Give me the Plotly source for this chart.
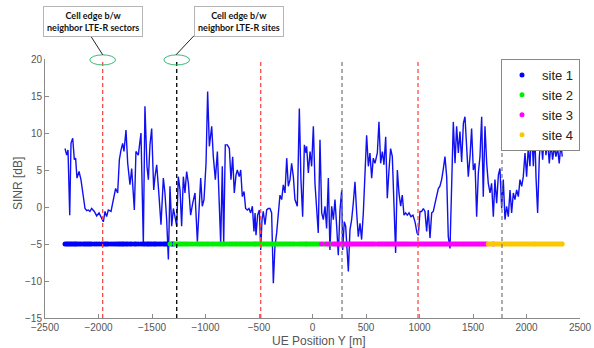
import plotly.graph_objects as go

# ---------------- data ----------------
pos = [-2313, -2297, -2285, -2269, -2257, -2241, -2226, -2214, -2201, -2182, -2164, -2142, -2126,
       -2110, -2095, -2080, -2064, -2039, -2017, -1995, -1970, -1955, -1939, -1924, -1908, -1883,
       -1861, -1840, -1821, -1805, -1790, -1774, -1762, -1743, -1727, -1706, -1690, -1665, -1650,
       -1628, -1603, -1581, -1566, -1547, -1534, -1519, -1503, -1484, -1472, -1456, -1435, -1416,
       -1394, -1379, -1363, -1347, -1332, -1316, -1300, -1285, -1269, -1254, -1238, -1223, -1207,
       -1192, -1176, -1160, -1139, -1120, -1098, -1076, -1061, -1045, -1030, -1014, -995, -980,
       -964, -942, -927, -908, -889, -871, -858, -843, -830, -815, -796, -777, -762, -746, -731,
       -715, -703, -684, -671, -656, -640, -625, -609, -594, -578, -562, -547, -537, -528, -513,
       -497, -484, -472, -460, -444, -428, -413, -397, -382, -366, -351, -335, -319, -304, -288,
       -273, -257, -241, -226, -210, -195, -179, -164, -142, -123, -108, -92, -76, -61, -55, -39,
       -23, -8, 8, 23, 39, 54, 70, 86, 101, 117, 132, 148, 163, 179, 195, 210, 226, 241, 257,
       273, 282, 297, 310, 322, 335, 350, 366, 381, 397, 413, 428, 444, 459, 475, 491, 506, 522,
       537, 553, 568, 584, 606, 621, 637, 653, 668, 684, 699, 715, 730, 746, 761, 777, 793, 808,
       824, 839, 855, 870, 886, 902, 920, 939, 958, 977, 989, 1005, 1020, 1036, 1051, 1067, 1082,
       1098, 1114, 1129, 1145, 1160, 1176, 1191, 1207, 1223, 1238, 1254, 1269, 1285, 1300, 1316,
       1332, 1347, 1363, 1378, 1394, 1410, 1425, 1441, 1456, 1472, 1487, 1503, 1519, 1534, 1550,
       1565, 1581, 1596, 1612, 1628, 1643, 1659, 1674, 1690, 1705, 1721, 1737, 1752, 1768, 1783,
       1799, 1814, 1830, 1846, 1861, 1877, 1892, 1908, 1924, 1939, 1955, 1970, 1986, 2001, 2017,
       2032, 2048, 2064, 2077, 2089, 2104, 2120, 2135, 2151, 2166, 2182, 2197, 2213, 2229, 2244,
       2260, 2275, 2291, 2306, 2322, 2334]

sinr = [7.9, 7.0, 7.7, -1.1, 8.6, 9.3, 6.4, 6.6, 3.9, 4.8, 3.7, 1.4, -0.2,
        -0.5, -0.4, -0.6, -0.2, -0.6, -1.2, -0.8, -1.5, -2.0, -0.6, -1.3, -0.4, -0.6,
        1.0, 2.5, 1.9, 6.4, 7.7, 8.6, 7.5, 10.4, 5.9, 3.0, 5.2, -0.4, 7.5,
        7.0, 10.0, -4.9, 13.6, 5.5, 3.7, 8.4, 10.6, 2.3, 4.1, 5.7, 1.6, -2.4,
        3.9, 1.9, -1.7, -7.1, 2.8, -2.6, -0.2, -1.3, -2.6, 4.1, 2.3, -2.6, 4.1,
        1.9, 4.8, 3.2, -1.1, 0.5, 1.9, -4.7, 0.1, 3.9, 0.1, 1.0, 5.9, 15.6,
        8.2, 10.9, 6.8, 3.7, 7.5, -1.7, -4.9, 5.5, -4.9, 8.4, 8.4, 7.9, 3.7, 6.8, 1.9,
        4.3, 5.0, 4.1, 5.0, 1.4, 2.1, -0.2, -0.4, -0.2, -0.8, 0.1, -3.3, -0.8, -3.8, -1.1,
        -0.4, -5.8, -1.7, -0.6, -2.4, -0.4, -0.2, -0.2, -0.8, -10.3, -5.3, -3.5, -0.8, 1.6, 1.0,
        3.0, 1.9, 6.6, 2.8, 3.7, 5.9, 4.1, 1.0, 0.1, 13.3, 3.7, -1.3, 8.4, 7.3, 8.2, 4.6,
        7.5, 5.5, 10.9, 3.2, -0.8, -3.5, 9.1, -0.8, -1.7, 0.1, -2.9, 3.9, -5.8, 0.1, -1.7, 1.0, -2.6, -6.5, -0.4, 2.3,
        -5.8, -2.0, -2.6, -4.9, -8.7, -3.1, -1.7, 0.5, 3.4, -0.8, -4.0, -2.2, -4.4, -0.8, 5.9, 9.7, 5.5, 7.3,
        3.9, 6.6, 5.9, 7.3, 11.5, 5.9, 7.5, 5.7, 9.5, 1.2, 5.0, 7.9, 6.8, 0.1, -6.2, 5.0, 1.9, 0.1,
        1.6, -1.1, -0.8, -1.1, -0.8, -1.3, -1.1, -2.0, -3.5, -3.8, -0.6, -0.6, -0.2, -0.6, -3.3, -0.4, -4.2,
        -0.8, -0.6, 0.5, 1.6, 2.5, 2.8, 3.7, 5.2, 6.8, 4.1, -4.0, -5.6, 2.3, 11.5, 5.9,
        10.9, 7.3, 10.2, 6.1, 11.3, 12.2, 8.2, 4.1, 6.8, 10.6, 5.0, 5.9, -1.3, 4.6, 6.8,
        12.2, 1.4, 10.9, 5.9, 3.2, 1.9, 3.2, -1.3, 3.7, 0.5, 4.3, 5.2, -0.2, 3.7, -1.7,
        0.1, -1.3, 2.3, -0.8, 1.9, 1.0, 2.3, 1.4, 3.7, 2.8, 4.1, 7.3, 4.1, 8.2, 5.5,
        10.4, 5.5, 10.4, 4.0, -0.8, 6.8, 9.5, 6.4, 10.0, 7.0, 9.1, 5.9, 8.6, 6.4, 8.2,
        6.8, 7.9, 5.9, 8.6, 6.8, 3.7]

# serving-site segments along the track (start, end, site index)
seg_start = [-2400, -1345, -1330, -1310, -1300, -1290, 85, 100, 125, 150, 180, 1640, 1682, 1700, 1718]
seg_end   = [-1345, -1330, -1310, -1300, -1290, 85, 100, 125, 150, 180, 1640, 1682, 1700, 1718, 2400]
seg_site  = [1, 2, 1, 2, 1, 2, 3, 2, 3, 2, 3, 4, 3, 4, 4]

site_names = ["site 1", "site 2", "site 3", "site 4"]
site_colors = ["#0000ff", "#00ee00", "#ff00ff", "#f9c800"]
site_level = -5

sector_edges = [-1961, -484, 986]
site_edges = [-1269, 276, 1771]
site_edge_colors = ["#000000", "#808080", "#808080"]

x_ticks = [-2500, -2000, -1500, -1000, -500, 0, 500, 1000, 1500, 2000, 2500]
y_ticks = [-15, -10, -5, 0, 5, 10, 15, 20]

callout_texts = ["Cell edge b/w<br>neighbor LTE-R sectors", "Cell edge b/w<br>neighbor LTE-R sites"]

# ---------------- figure ----------------
def site_of(p):
    for s, e, k in zip(seg_start, seg_end, seg_site):
        if s <= p < e:
            return k
    return seg_site[-1]

sites = [site_of(p) for p in pos]

fig = go.Figure()
fig.add_trace(go.Scatter(x=pos, y=sinr, mode="lines",
                         line=dict(color="#1010f0", width=1.4), showlegend=False,
                         hoverinfo="skip"))
for k, (name, col) in enumerate(zip(site_names, site_colors), start=1):
    xs = [p for p, s in zip(pos, sites) if s == k]
    fig.add_trace(go.Scatter(x=xs, y=[site_level] * len(xs), mode="markers", name=name,
                             marker=dict(color=col, size=5, line=dict(width=0))))

shapes = []
for e in sector_edges:
    shapes.append(dict(type="line", xref="x", yref="paper", x0=e, x1=e, y0=0, y1=1,
                       line=dict(color="#ff4a4a", width=1.3, dash="4px,3px")))
for e, c in zip(site_edges, site_edge_colors):
    shapes.append(dict(type="line", xref="x", yref="paper", x0=e, x1=e, y0=0, y1=1,
                       line=dict(color=c, width=1.3, dash="4px,3px")))
# highlight ellipses at top of the first sector edge and first site edge
for e in [sector_edges[0], site_edges[0]]:
    shapes.append(dict(type="circle", xref="x", yref="paper", x0=e - 120, x1=e + 120,
                       y0=0.977, y1=1.016, line=dict(color="#3cb878", width=1)))
# leader lines from callout boxes
shapes.append(dict(type="line", xref="paper", yref="paper", x0=0.082, y0=1.100, x1=0.108, y1=1.016,
                   line=dict(color="#222222", width=1)))
shapes.append(dict(type="line", xref="paper", yref="paper", x0=0.2785, y0=1.090, x1=0.2449, y1=1.016,
                   line=dict(color="#222222", width=1)))

annotations = []
for txt, xc in zip(callout_texts, [0.0897, 0.3626]):
    annotations.append(dict(text="<b>" + txt + "</b>", xref="paper", yref="paper", x=xc, y=1.143,
                            xanchor="center", yanchor="middle", showarrow=False,
                            font=dict(family="Lato", size=9, color="#111111"),
                            bgcolor="white", bordercolor="#b5b5b5", borderwidth=1, borderpad=3))
annotations.append(dict(text="UE Position Y [m]", xref="paper", yref="paper", x=0.512, y=-0.088,
                        xanchor="center", yanchor="middle", showarrow=False,
                        font=dict(family="Liberation Sans", size=12, color="#555555")))
annotations.append(dict(text="SINR [dB]", xref="paper", yref="paper", x=-0.0505, y=0.521,
                        xanchor="center", yanchor="middle", showarrow=False, textangle=-90,
                        font=dict(family="Liberation Sans", size=12, color="#555555")))

axis_common = dict(showline=True, linecolor="#8a8a8a", linewidth=1, ticks="inside", ticklen=4,
                   tickcolor="#8a8a8a", showgrid=False, zeroline=False,
                   tickfont=dict(family="Liberation Sans", size=10, color="#555555"))

fig.update_layout(
    width=594, height=348, template="none",
    margin=dict(l=45, r=14, t=59, b=30),
    paper_bgcolor="white", plot_bgcolor="white",
    font=dict(family="Liberation Sans", color="#333333"),
    xaxis=dict(range=[-2500, 2500], tickvals=x_ticks, automargin=False, **axis_common),
    yaxis=dict(range=[-15, 20], tickvals=y_ticks, automargin=False, **axis_common),
    legend=dict(x=1.0, y=1.0, xanchor="right", yanchor="top", bgcolor="white",
                bordercolor="#888888", borderwidth=1, itemwidth=30,
                font=dict(family="Liberation Sans", size=13, color="#222222"),
                tracegroupgap=0),
    shapes=shapes, annotations=annotations,
)

fig.write_html("out.html")
